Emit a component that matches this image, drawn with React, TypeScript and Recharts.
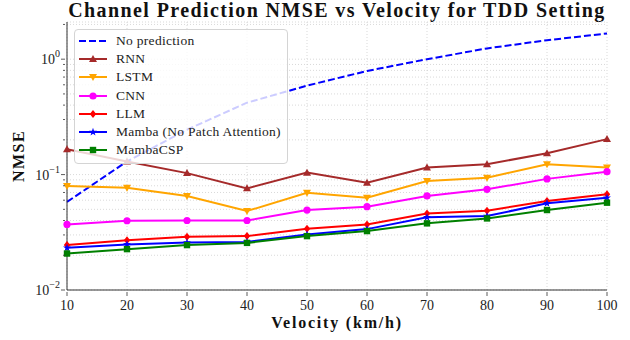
import { LineChart, Line, XAxis, YAxis, CartesianGrid, Legend } from "recharts";

document.body.style.margin = "0";

const FONT = "'Liberation Serif', 'Times New Roman', serif";

const velocity = [10, 20, 30, 40, 50, 60, 70, 80, 90, 100];
const noPrediction = [0.058, 0.13, 0.245, 0.42, 0.59, 0.79, 1.0, 1.24, 1.46, 1.67];
const rnn = [0.166, 0.13, 0.103, 0.076, 0.104, 0.085, 0.115, 0.123, 0.153, 0.203];
const lstm = [0.0797, 0.077, 0.0653, 0.0483, 0.0697, 0.063, 0.088, 0.094, 0.123, 0.115];
const cnn = [0.037, 0.0398, 0.04, 0.04, 0.0493, 0.0527, 0.0653, 0.0746, 0.0918, 0.106];
const llm = [0.0245, 0.027, 0.0289, 0.0293, 0.0339, 0.037, 0.0461, 0.0486, 0.059, 0.0676];
const mamba = [0.0232, 0.0248, 0.0258, 0.0261, 0.0303, 0.0337, 0.0426, 0.0437, 0.0564, 0.063];
const mambaCsp = [0.0207, 0.0226, 0.0245, 0.0256, 0.0293, 0.0324, 0.0378, 0.0417, 0.0493, 0.0571];

const xTicks = [10, 20, 30, 40, 50, 60, 70, 80, 90, 100];
const yMajor = [0.01, 0.1, 1];
const yMajorLabels = ["\u22122", "\u22121", "0"];
const yTicks = [
  0.01, 0.02, 0.03, 0.04, 0.05, 0.06, 0.07, 0.08, 0.09,
  0.1, 0.2, 0.3, 0.4, 0.5, 0.6, 0.7, 0.8, 0.9,
  1, 2,
];

type Shape = "none" | "triUp" | "triDown" | "circle" | "diamond" | "star" | "square";

const series: { key: string; name: string; color: string; shape: Shape; dashed?: boolean }[] = [
  { key: "noPrediction", name: "No prediction", color: "#0000ff", shape: "none", dashed: true },
  { key: "rnn", name: "RNN", color: "#a52a2a", shape: "triUp" },
  { key: "lstm", name: "LSTM", color: "#ffa500", shape: "triDown" },
  { key: "cnn", name: "CNN", color: "#ff00ff", shape: "circle" },
  { key: "llm", name: "LLM", color: "#ff0000", shape: "diamond" },
  { key: "mamba", name: "Mamba (No Patch Attention)", color: "#0000ff", shape: "star" },
  { key: "mambaCsp", name: "MambaCSP", color: "#008000", shape: "square" },
];

const data = velocity.map((v, i) => ({
  v,
  noPrediction: noPrediction[i],
  rnn: rnn[i],
  lstm: lstm[i],
  cnn: cnn[i],
  llm: llm[i],
  mamba: mamba[i],
  mambaCsp: mambaCsp[i],
}));

function Marker({ cx, cy, shape, color }: { cx: number; cy: number; shape: Shape; color: string }) {
  const s = 4;
  switch (shape) {
    case "triUp":
      return <polygon points={`${cx},${cy - s} ${cx + s},${cy + s * 0.75} ${cx - s},${cy + s * 0.75}`} fill={color} />;
    case "triDown":
      return <polygon points={`${cx},${cy + s} ${cx + s},${cy - s * 0.75} ${cx - s},${cy - s * 0.75}`} fill={color} />;
    case "circle":
      return <circle cx={cx} cy={cy} r={s * 0.9} fill={color} />;
    case "diamond":
      return <polygon points={`${cx},${cy - s} ${cx + s * 0.8},${cy} ${cx},${cy + s} ${cx - s * 0.8},${cy}`} fill={color} />;
    case "star": {
      const pts: string[] = [];
      for (let k = 0; k < 10; k++) {
        const r = k % 2 === 0 ? s * 1.05 : s * 0.42;
        const a = -Math.PI / 2 + (k * Math.PI) / 5;
        pts.push(`${cx + r * Math.cos(a)},${cy + r * Math.sin(a)}`);
      }
      return <polygon points={pts.join(" ")} fill={color} />;
    }
    case "square":
      return <rect x={cx - s * 0.8} y={cy - s * 0.8} width={s * 1.6} height={s * 1.6} fill={color} />;
    default:
      return null;
  }
}

function YTick(props: any) {
  const { x, y, payload } = props;
  const idx = yMajor.indexOf(payload.value);
  const major = idx >= 0;
  return (
    <g>
      <line x1={x} x2={x - (major ? 4 : 2)} y1={y} y2={y} stroke="#333" strokeWidth={0.8} />
      {major && (
        <text x={x - 5} y={y + 5} textAnchor="end" fontFamily={FONT} fontSize={14} fill="#222">
          10
          <tspan dy={-7} fontSize={10}>
            {yMajorLabels[idx]}
          </tspan>
        </text>
      )}
    </g>
  );
}

function XTick(props: any) {
  const { x, y, payload } = props;
  return (
    <g>
      <line x1={x} x2={x} y1={y} y2={y + 4} stroke="#333" strokeWidth={0.8} />
      <text x={x} y={y + 18} textAnchor="middle" fontFamily={FONT} fontSize={14} fill="#222">
        {payload.value}
      </text>
    </g>
  );
}

function LegendBox() {
  return (
    <div
      style={{
        background: "rgba(255,255,255,0.8)",
        border: "1px solid #d4d4d4",
        borderRadius: 4,
        width: 212,
        height: 131,
        boxSizing: "content-box",
        paddingTop: 2,
        fontFamily: FONT,
        fontSize: 13.5,
        letterSpacing: 0.3,
        color: "#222",
      }}
    >
      {series.map((s) => (
        <div key={s.key} style={{ display: "flex", alignItems: "center", height: 18.2 }}>
          <svg width={41} height={12} style={{ flex: "none" }}>
            <line
              x1={4}
              x2={32}
              y1={6}
              y2={6}
              stroke={s.color}
              strokeWidth={2}
              strokeDasharray={s.dashed ? "7 3" : undefined}
            />
            <Marker cx={18} cy={6} shape={s.shape} color={s.color} />
          </svg>
          <span style={{ whiteSpace: "nowrap", lineHeight: "14px" }}>{s.name}</span>
        </div>
      ))}
    </div>
  );
}

export default function App() {
  return (
    <div style={{ position: "relative", width: 630, height: 340, background: "#fff" }}>
      <div
        style={{
          position: "absolute",
          left: 60,
          width: 554,
          top: 0,
          textAlign: "center",
          fontFamily: FONT,
          fontWeight: "bold",
          fontSize: 20,
          letterSpacing: 1.4,
          lineHeight: "20px",
          color: "#111",
        }}
      >
        Channel Prediction NMSE vs Velocity for TDD Setting
      </div>
      <LineChart width={630} height={340} data={data} margin={{ top: 22, right: 23, bottom: 0, left: 0 }}>
        <CartesianGrid stroke="#cfcfcf" strokeDasharray="1 2" strokeWidth={0.8} />
        <XAxis
          dataKey="v"
          type="number"
          domain={[10, 100]}
          ticks={xTicks}
          height={50}
          tickSize={0}
          tick={<XTick />}
          axisLine={{ stroke: "#333", strokeWidth: 1 }}
          label={{
            content: () => (
              <text
                x={337}
                y={328}
                textAnchor="middle"
                fontFamily={FONT}
                fontWeight="bold"
                fontSize={16}
                letterSpacing={1.8}
                fill="#111"
              >
                Velocity (km/h)
              </text>
            ),
          }}
        />
        <XAxis
          xAxisId="top"
          orientation="top"
          dataKey="v"
          type="number"
          domain={[10, 100]}
          height={0}
          tick={false}
          tickLine={false}
          axisLine={{ stroke: "#333", strokeWidth: 1 }}
        />
        <YAxis
          type="number"
          scale="log"
          domain={[0.01, 2.1]}
          allowDataOverflow
          ticks={yTicks}
          interval={0}
          width={67}
          tickSize={0}
          tick={<YTick />}
          axisLine={{ stroke: "#333", strokeWidth: 1 }}
          label={{
            content: () => (
              <text
                x={24}
                y={156}
                transform="rotate(-90 24 156)"
                textAnchor="middle"
                fontFamily={FONT}
                fontWeight="bold"
                fontSize={16}
                letterSpacing={1.5}
                fill="#111"
              >
                NMSE
              </text>
            ),
          }}
        />
        <YAxis
          yAxisId="right"
          orientation="right"
          type="number"
          scale="log"
          domain={[0.01, 2.1]}
          width={0}
          tick={false}
          tickLine={false}
          axisLine={{ stroke: "#333", strokeWidth: 1 }}
        />
        {series.map((s) => (
          <Line
            key={s.key}
            dataKey={s.key}
            name={s.name}
            type="linear"
            stroke={s.color}
            strokeWidth={2}
            strokeDasharray={s.dashed ? "7 3" : undefined}
            isAnimationActive={false}
            activeDot={false}
            dot={
              s.dashed
                ? false
                : (p: any) => <Marker key={`${s.key}-${p.index}`} cx={p.cx} cy={p.cy} shape={s.shape} color={s.color} />
            }
          />
        ))}
        <Legend
          layout="vertical"
          align="center"
          verticalAlign="middle"
          wrapperStyle={{ left: 74, top: 29, width: "auto" }}
          content={() => <LegendBox />}
        />
      </LineChart>
    </div>
  );
}
